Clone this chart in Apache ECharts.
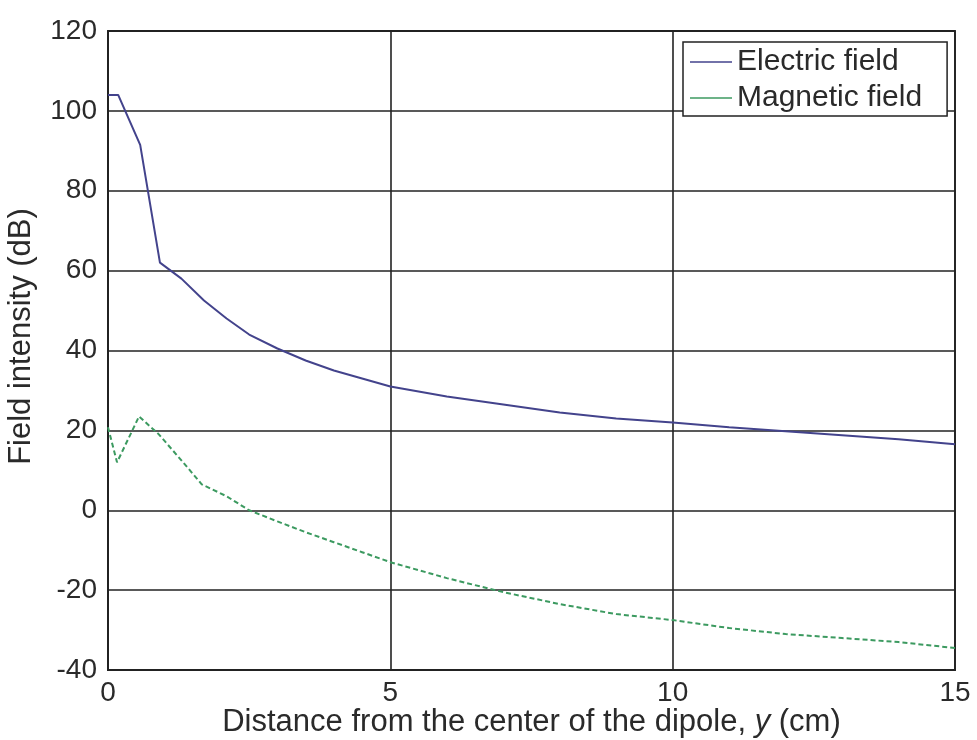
<!DOCTYPE html>
<html><head><meta charset="utf-8">
<script src="https://cdn.jsdelivr.net/npm/echarts@6/dist/echarts.min.js"></script>
<style>html,body{margin:0;padding:0;background:#fff}#c{width:977px;height:740px}</style>
</head><body><div id="c"></div>
<script>
const xTicks = [0, 5, 10, 15];
const yTicks = [-40, -20, 0, 20, 40, 60, 80, 100, 120];
const electricX = [0, 0.18, 0.57, 0.92, 1.3, 1.7, 2.1, 2.5, 3, 3.5, 4, 4.5, 5, 6, 7, 8, 9, 10, 11, 12, 13, 14, 15];
const electricY = [104, 104, 91.5, 62, 58, 52.5, 48, 44, 40.5, 37.5, 35, 33, 31, 28.5, 26.5, 24.5, 23, 22, 20.8, 19.8, 18.8, 17.8, 16.5];
const magneticX = [0, 0.16, 0.55, 0.9, 1.3, 1.66, 2.1, 2.5, 3, 3.5, 4, 4.5, 5, 6, 7, 8, 9, 10, 11, 12, 13, 14, 15];
const magneticY = [20.8, 12, 23.5, 19, 12.5, 6.5, 3.5, 0, -2.8, -5.5, -8, -10.5, -13, -17, -20.5, -23.5, -26, -27.5, -29.5, -31, -32, -33, -34.5];
const seriesNames = ['Electric field', 'Magnetic field'];

const zip = (xs, ys) => xs.map((x, i) => [x, ys[i]]);
const chart = echarts.init(document.getElementById('c'));
const font = 'Liberation Sans, Arial, sans-serif';
const txt = '#2a2a2a';
chart.setOption({
  animation: false,
  backgroundColor: '#fff',
  grid: { left: 108, right: 22, top: 31, bottom: 70, containLabel: false, outerBoundsMode: 'none',
    show: true, borderColor: '#222', borderWidth: 1.8 },
  legend: {
    data: seriesNames, orient: 'vertical', left: 683, top: 42,
    backgroundColor: '#fff', borderColor: '#222', borderWidth: 1.5,
    padding: [5, 25, 3, 7], itemGap: 6, itemWidth: 42, itemHeight: 1.6, icon: 'rect',
    textStyle: { fontFamily: font, fontSize: 30, color: txt, lineHeight: 30 }
  },
  xAxis: {
    type: 'value', min: xTicks[0], max: xTicks[xTicks.length - 1], interval: 5,
    name: 'Distance from the center of the dipole, {i|y} (cm)',
    nameLocation: 'middle', nameGap: 37, nameMoveOverlap: false,
    nameTextStyle: { fontFamily: font, fontSize: 31, color: txt, rich: { i: { fontStyle: 'italic', fontFamily: font, fontSize: 31, color: txt } } },
    axisLine: { show: true, onZero: false, lineStyle: { color: '#222', width: 1.8 } },
    axisTick: { show: false },
    splitLine: { show: true, lineStyle: { color: '#222', width: 1.6 } },
    axisLabel: { fontFamily: font, fontSize: 28, color: txt, margin: 9 }
  },
  yAxis: {
    type: 'value', min: yTicks[0], max: yTicks[yTicks.length - 1], interval: 20,
    name: 'Field intensity (dB)', nameLocation: 'middle', nameGap: 71, nameRotate: 90, nameMoveOverlap: false,
    nameTextStyle: { fontFamily: font, fontSize: 31, color: txt, padding: [0, 0, 0, 28] },
    axisLine: { show: true, lineStyle: { color: '#222', width: 1.8 } },
    axisTick: { show: false },
    splitLine: { show: true, lineStyle: { color: '#222', width: 1.6 } },
    axisLabel: { fontFamily: font, fontSize: 28, color: txt, margin: 11 }
  },
  series: [
    { name: seriesNames[0], type: 'line', data: zip(electricX, electricY), symbol: 'none',
      lineStyle: { color: '#43438c', width: 2 }, itemStyle: { color: '#43438c' } },
    { name: seriesNames[1], type: 'line', data: zip(magneticX, magneticY), symbol: 'none',
      lineStyle: { color: '#3c9a60', width: 2, type: [5, 3] }, itemStyle: { color: '#3c9a60' } }
  ]
});
</script></body></html>
